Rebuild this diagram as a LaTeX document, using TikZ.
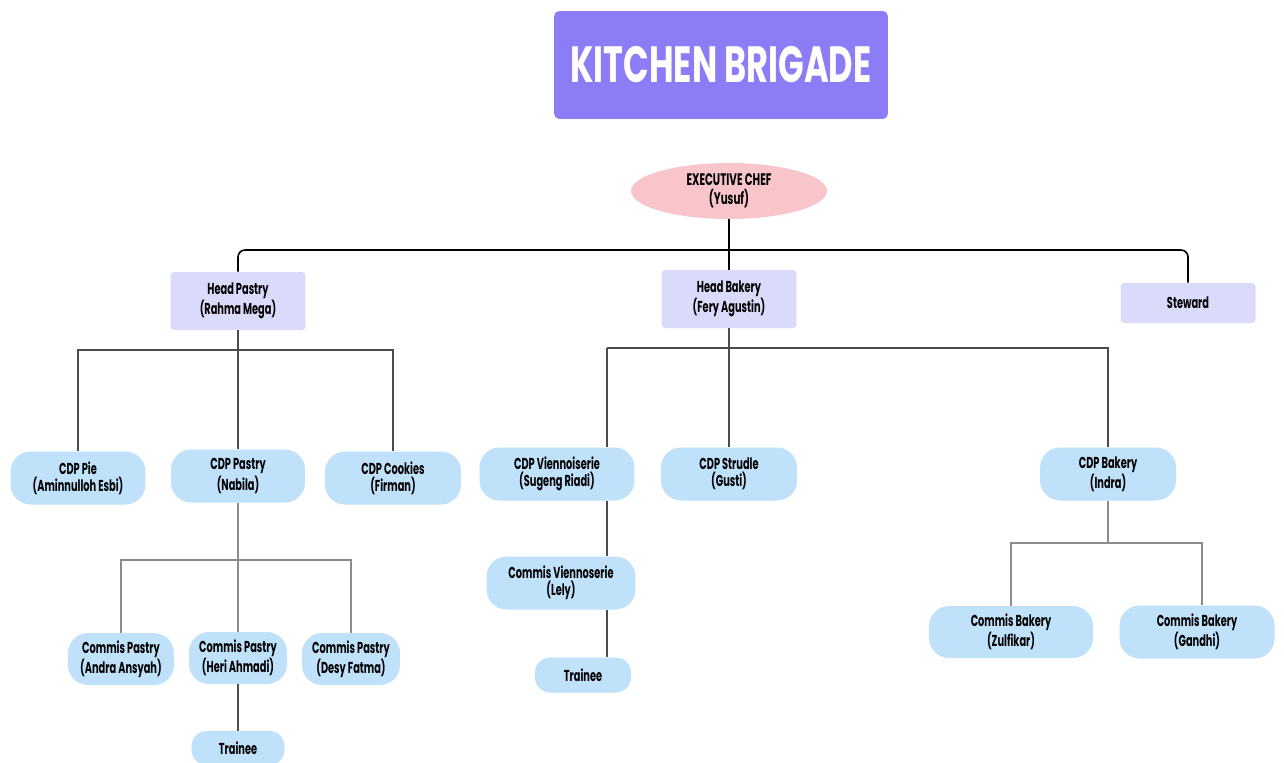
\documentclass[tikz,border=0pt]{standalone}
\usepackage{fontspec}
\newfontfamily\brigadefont[FakeStretch=0.62]{Poppins}
\newfontfamily\bannerfont[FakeStretch=0.66]{Poppins}
\usetikzlibrary{shapes.geometric}

\definecolor{titlepurple}{RGB}{140,124,246}
\definecolor{chefpink}{RGB}{248,198,202}
\definecolor{headlilac}{RGB}{218,218,250}
\definecolor{cdpblue}{RGB}{191,225,250}

\tikzset{
  head/.style={fill=headlilac, rounded corners=2pt, inner sep=0pt, align=center,
    minimum width=2.7cm, minimum height=1.16cm,
    font=\brigadefont\bfseries\fontsize{9}{9.6}\selectfont},
  cdp/.style={fill=cdpblue, rounded corners=0.4cm, inner sep=0pt, align=center,
    minimum height=1.06cm,
    font=\brigadefont\bfseries\fontsize{9}{9.6}\selectfont},
  topline/.style={draw=black, line width=0.9pt},
  midline/.style={draw=black!70, line width=0.7pt},
  lowline/.style={draw=black!45, line width=0.6pt},
}

\begin{document}
\begin{tikzpicture}[x=0.02cm, y=-0.02cm]
	\useasboundingbox (0,0) rectangle (1284,762);

	% title and chef
	\node[fill=titlepurple, rounded corners=3pt, minimum width=6.68cm, minimum height=2.16cm,
		text=white, font=\bannerfont\bfseries\fontsize{29}{29}\selectfont]
		(title) at (721,65) {KITCHEN BRIGADE};
	\node[ellipse, fill=chefpink, minimum width=3.92cm, minimum height=1.12cm, inner sep=0pt,
		align=center, font=\brigadefont\bfseries\fontsize{9.5}{11}\selectfont]
		(chef) at (729,191) {EXECUTIVE CHEF\\(Yusuf)};

	% heads
	\node[head] (hpastry) at (238,301) {Head Pastry\\(Rahma Mega)};
	\node[head] (hbakery) at (729,299) {Head Bakery\\(Fery Agustin)};
	\node[head, minimum height=0.8cm] (steward) at (1188,303) {Steward};

	% pastry side
	\node[cdp, minimum width=2.7cm] (cdppie) at (78,478) {CDP Pie\\(Aminnulloh Esbi)};
	\node[cdp, minimum width=2.68cm] (cdppastry) at (238,476) {CDP Pastry\\(Nabila)};
	\node[cdp, minimum width=2.72cm] (cdpcookies) at (393,478) {CDP Cookies\\(Firman)};
	\node[cdp, minimum width=2.12cm, minimum height=1.04cm] (cmandra) at (121,659) {Commis Pastry\\(Andra Ansyah)};
	\node[cdp, minimum width=1.96cm, minimum height=1.04cm] (cmheri) at (238,658) {Commis Pastry\\(Heri Ahmadi)};
	\node[cdp, minimum width=1.96cm, minimum height=1.04cm] (cmdesy) at (351,659) {Commis Pastry\\(Desy Fatma)};
	\node[cdp, minimum width=1.86cm, minimum height=0.68cm, rounded corners=0.3cm] (trpastry) at (238,748) {Trainee};

	% bakery side
	\node[cdp, minimum width=3.1cm] (cdpvienn) at (557,474) {CDP Viennoiserie\\(Sugeng Riadi)};
	\node[cdp, minimum width=2.72cm] (cdpstrudle) at (729,474) {CDP Strudle\\(Gusti)};
	\node[cdp, minimum width=2.72cm] (cdpbakery) at (1108,474) {CDP Bakery\\(Indra)};
	\node[cdp, minimum width=2.98cm] (cmvienn) at (561,583) {Commis Viennoserie\\(Lely)};
	\node[cdp, minimum width=1.92cm, minimum height=0.7cm, rounded corners=0.3cm] (trbakery) at (583,675) {Trainee};
	\node[cdp, minimum width=3.28cm, minimum height=1.04cm] (cmzul) at (1011,632) {Commis Bakery\\(Zulfikar)};
	\node[cdp, minimum width=3.1cm] (cmgandhi) at (1197,632) {Commis Bakery\\(Gandhi)};

	% junctions
	\coordinate (topbus) at (729,250);
	\coordinate (pastrybus) at (238,350);
	\coordinate (viennbus) at (607,348);
	\coordinate (commisbus) at (238,560);
	\coordinate (bakerybus) at (1108,543);

	% connectors
	\draw[topline] (chef) -- (hbakery);
	\draw[topline, rounded corners=4pt] (hpastry.north) |- (topbus) -| (steward.north);

	\draw[midline] (hpastry) -- (cdppastry);
	\draw[midline] (cdppie.north) |- (pastrybus) -| (cdpcookies.north);
	\draw[midline] (hbakery) -- (cdpstrudle);
	\draw[midline] (viennbus) -| (cdpbakery.north);
	\draw[midline] (viennbus) -- (viennbus |- cdpvienn.north);
	\draw[midline] (viennbus |- cdpvienn.south) -- (viennbus |- cmvienn.north);
	\draw[midline] (viennbus |- cmvienn.south) -- (viennbus |- trbakery.north);

	\draw[lowline] (cdppastry) -- (cmheri);
	\draw[lowline] (cmandra.north) |- (commisbus) -| (cmdesy.north);
	\draw[midline] (cmheri) -- (trpastry);
	\draw[lowline] (cdpbakery) -- (bakerybus);
	\draw[lowline] (cmzul.north) |- (bakerybus) -| ([xshift=0.1cm]cmgandhi.north);
\end{tikzpicture}
\end{document}
